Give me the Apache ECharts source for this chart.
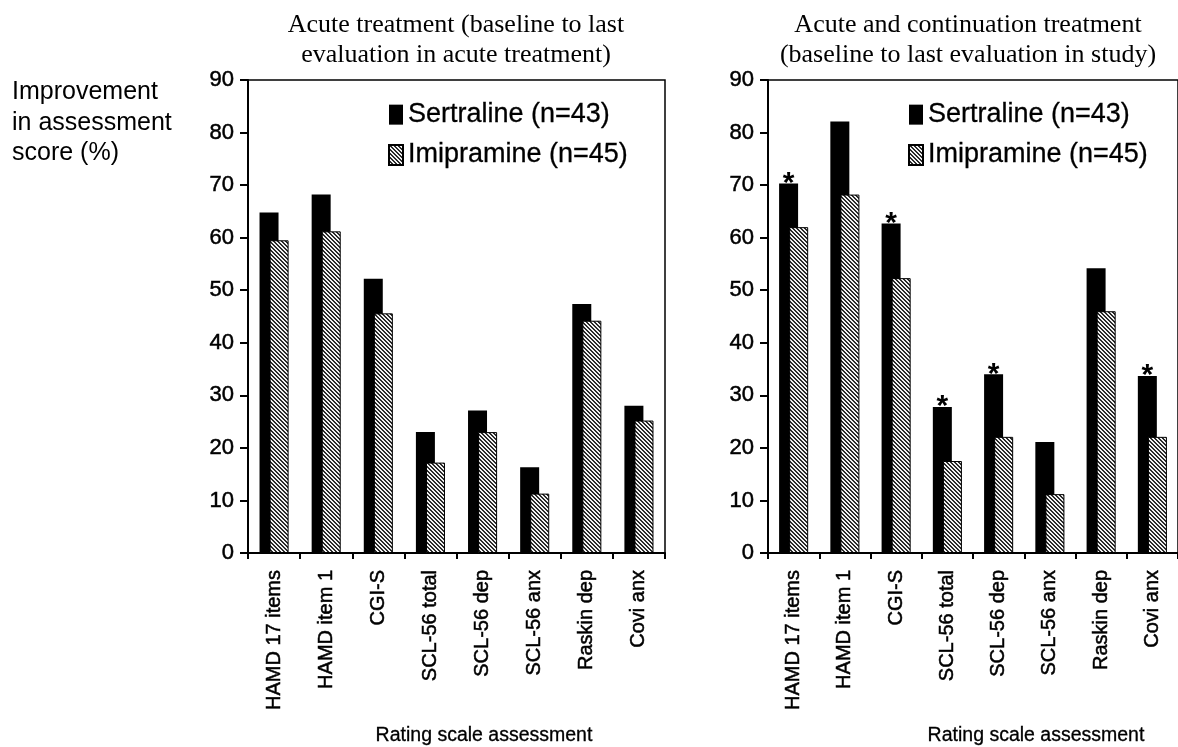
<!DOCTYPE html>
<html>
<head>
<meta charset="utf-8">
<script src="https://cdn.jsdelivr.net/npm/echarts@6/dist/echarts.min.js"></script>
<style>
html,body{margin:0;padding:0;background:#fff;}
#chart{width:1178px;height:747px;}
</style>
</head>
<body>
<div id="chart"></div>
<script>
const categories = ['HAMD 17 items','HAMD item 1','CGI-S','SCL-56 total','SCL-56 dep','SCL-56 anx','Raskin dep','Covi anx'];
const seriesNames = ['Sertraline (n=43)','Imipramine (n=45)'];
const acuteSertraline = [64.8, 68.2, 52.2, 23.0, 27.1, 16.3, 47.4, 28.0];
const acuteImipramine = [59.5, 61.2, 45.6, 17.2, 23.0, 11.3, 44.2, 25.2];
const contSertraline  = [70.3, 82.1, 62.7, 27.8, 34.0, 21.1, 54.2, 33.7];
const contImipramine  = [62.0, 68.2, 52.3, 17.5, 22.1, 11.2, 46.0, 22.1];
const contSignificant = [1, 0, 1, 1, 1, 0, 0, 1];
const titleLeft  = 'Acute treatment (baseline to last\nevaluation in acute treatment)';
const titleRight = 'Acute and continuation treatment\n(baseline to last evaluation in study)';
const yAxisTitle = 'Improvement\nin assessment\nscore (%)';
const xAxisTitle = 'Rating scale assessment';

// hatch pattern
const tile = document.createElement('canvas');
tile.width = 4; tile.height = 4;
const tctx = tile.getContext('2d');
tctx.fillStyle = '#f2f2f2';
tctx.fillRect(0,0,4,4);
tctx.fillStyle = '#2a2a2a';
for (let y = 0; y < 4; y++) for (let x = 0; x < 4; x++) {
  if (((x - y) % 4 + 4) % 4 < 2) tctx.fillRect(x, y, 1, 1);
}
const hatch = { image: tile, repeat: 'repeat' };

const sans = 'Liberation Sans, Arial, sans-serif';
const serif = 'Liberation Serif, Times New Roman, serif';
const heavy = { textBorderColor: '#000', textBorderWidth: 0.5 };

function xAxis(gi) {
  return {
    type: 'category', gridIndex: gi, data: categories,
    axisLine: { lineStyle: { color: '#000', width: 2 } },
    axisTick: { show: true, length: 6, lineStyle: { color: '#000', width: 2 } },
    axisLabel: Object.assign({ rotate: 90, margin: 17, color: '#000', fontSize: 20, fontFamily: sans, interval: 0 }, heavy)
  };
}
function yAxis(gi) {
  return {
    type: 'value', gridIndex: gi, min: 0, max: 90, interval: 10,
    axisLine: { show: true, lineStyle: { color: '#000', width: 2 } },
    axisTick: { show: true, length: 8, lineStyle: { color: '#000', width: 2 } },
    axisLabel: Object.assign({ margin: 14, color: '#000', fontSize: 22, fontFamily: sans }, heavy),
    splitLine: { show: false }
  };
}
function bars(gi, name, data, isHatch) {
  return {
    type: 'bar', name: name, xAxisIndex: gi, yAxisIndex: gi, data: data,
    barWidth: 19, barGap: '-47%',
    itemStyle: isHatch ? { color: hatch, borderColor: '#000', borderWidth: 1 } : { color: '#000' },
    emphasis: { disabled: true }
  };
}

const chart = echarts.init(document.getElementById('chart'), null, { renderer: 'canvas' });
const legendCommon = {
  orient: 'vertical', top: 101, padding: 0, itemWidth: 14, itemHeight: 20, itemGap: 13,
  icon: 'rect', selectedMode: false,
  textStyle: Object.assign({ fontSize: 27, fontFamily: sans, color: '#000', lineHeight: 20 }, { textBorderColor: '#000', textBorderWidth: 0.3 }),
  data: seriesNames
};
chart.setOption({
  animation: false,
  backgroundColor: '#fff',
  title: [
    { text: titleLeft, left: 456, top: 10, padding: 0, textAlign: 'center',
      textStyle: { fontFamily: serif, fontSize: 26, fontWeight: 'normal', color: '#000', lineHeight: 30, align: 'center' } },
    { text: titleRight, left: 968, top: 10, padding: 0, textAlign: 'center',
      textStyle: { fontFamily: serif, fontSize: 26, fontWeight: 'normal', color: '#000', lineHeight: 30, align: 'center' } },
    { text: yAxisTitle, left: 12, top: 77, padding: 0,
      textStyle: { fontFamily: sans, fontSize: 25, fontWeight: 'normal', color: '#000', lineHeight: 30.5 } },
    { text: xAxisTitle, left: 484, top: 726, padding: 0, textAlign: 'center',
      textStyle: { fontFamily: sans, fontSize: 19.5, fontWeight: 'normal', color: '#000', textBorderColor: '#000', textBorderWidth: 0.3 } },
    { text: xAxisTitle, left: 1036, top: 726, padding: 0, textAlign: 'center',
      textStyle: { fontFamily: sans, fontSize: 19.5, fontWeight: 'normal', color: '#000', textBorderColor: '#000', textBorderWidth: 0.3 } }
  ],
  legend: [
    Object.assign({ left: 388 }, legendCommon),
    Object.assign({ left: 908 }, legendCommon)
  ],
  grid: [
    { left: 248, width: 417, top: 80, height: 473, show: true, borderColor: '#000', borderWidth: 1.5, backgroundColor: 'transparent' },
    { left: 768, width: 414, top: 80, height: 473, show: true, borderColor: '#000', borderWidth: 1.5, backgroundColor: 'transparent' }
  ],
  xAxis: [xAxis(0), xAxis(1)],
  yAxis: [yAxis(0), yAxis(1)],
  series: [
    bars(0, seriesNames[0], acuteSertraline, false),
    bars(0, seriesNames[1], acuteImipramine, true),
    Object.assign(bars(1, seriesNames[0], contSertraline.map((v, i) => ({
      value: v, label: { show: !!contSignificant[i] }
    })), false), {
      label: { show: false, position: 'top', distance: -15, formatter: '*', fontSize: 30, fontWeight: 'bold', fontFamily: sans, color: '#000' }
    }),
    bars(1, seriesNames[1], contImipramine, true)
  ]
});
</script>
</body>
</html>
